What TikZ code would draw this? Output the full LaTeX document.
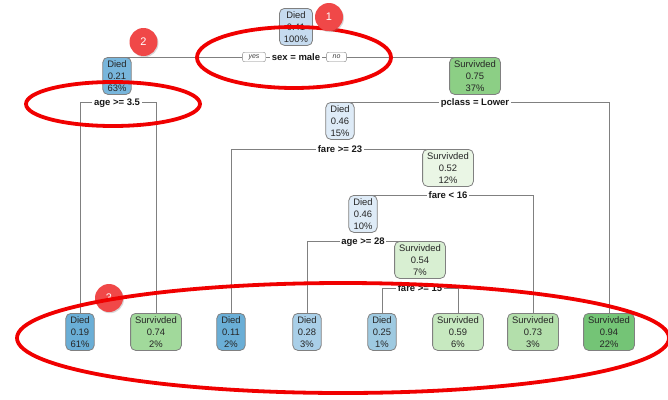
\documentclass[tikz,border=0pt]{standalone}
\usepackage{fontspec}
\setmainfont{Liberation Sans}
\usetikzlibrary{backgrounds,shadows}
\definecolor{linegray}{HTML}{808080}
\definecolor{bA}{HTML}{C6DBEF}
\definecolor{bB}{HTML}{78B6DC}
\definecolor{bC}{HTML}{DEEBF7}
\definecolor{bD}{HTML}{6AAED6}
\definecolor{bE}{HTML}{A9CFE8}
\definecolor{bF}{HTML}{9ECAE1}
\definecolor{gA}{HTML}{8CCF85}
\definecolor{gB}{HTML}{EAF6E5}
\definecolor{gC}{HTML}{D8EFD2}
\definecolor{gD}{HTML}{A1D99B}
\definecolor{gE}{HTML}{C7E9C0}
\definecolor{gF}{HTML}{B3DFAB}
\definecolor{gG}{HTML}{74C476}
\definecolor{annred}{HTML}{F00000}
\definecolor{circred}{HTML}{F04848}
\begin{document}
\begin{tikzpicture}[x=1pt,y=-1pt,
  treenode/.style={draw=linegray, line width=0.8pt, rounded corners=5pt, align=center,
    font=\fontsize{9.4}{12}\selectfont, text=black!85, inner xsep=4.5pt, inner ysep=2.5pt,
    minimum height=37pt, anchor=north},
  splitlab/.style={fill=white, font=\bfseries\fontsize{9.5}{11}\selectfont, text=black!90,
    inner xsep=1.5pt, inner ysep=1pt, text height=7pt, text depth=0pt},
  yesno/.style={draw=linegray, fill=white, rounded corners=2pt, font=\itshape\fontsize{7}{8}\selectfont,
    text=black!75, inner xsep=6pt, inner ysep=1.5pt, text height=5pt, text depth=1.5pt},
  branch/.style={draw=linegray, line width=0.8pt},
  redcirc/.style={circle, fill=circred, minimum size=28pt, inner sep=0pt, text=white,
    font=\fontsize{11}{11}\selectfont,
    drop shadow={opacity=0.3, shadow xshift=1pt, shadow yshift=-1.2pt}},
  annring/.style={draw=annred, line width=3.8pt}
]
\useasboundingbox (0,0) rectangle (668,399);
% internal nodes
\node[treenode, fill=bA] (n1) at (296,8) {Died\\0.41\\100\%};
\node[treenode, fill=bB] (n2) at (117,57) {Died\\0.21\\63\%};
\node[treenode, fill=gA] (n3) at (475,57) {Survivded\\0.75\\37\%};
\node[treenode, fill=bC] (n6) at (340,102) {Died\\0.46\\15\%};
\node[treenode, fill=gB] (n9) at (448,149) {Survivded\\0.52\\12\%};
\node[treenode, fill=bC] (n10) at (363,195) {Died\\0.46\\10\%};
\node[treenode, fill=gC] (n13) at (420,241) {Survivded\\0.54\\7\%};
% leaves
\node[treenode, fill=bD] (n4) at (80,313) {Died\\0.19\\61\%};
\node[treenode, fill=gD] (n5) at (156,313) {Survivded\\0.74\\2\%};
\node[treenode, fill=bD] (n8) at (231,313) {Died\\0.11\\2\%};
\node[treenode, fill=bE] (n12) at (307,313) {Died\\0.28\\3\%};
\node[treenode, fill=bF] (n14) at (382,313) {Died\\0.25\\1\%};
\node[treenode, fill=gE] (n15) at (458,313) {Survivded\\0.59\\6\%};
\node[treenode, fill=gF] (n11) at (533,313) {Survivded\\0.73\\3\%};
\node[treenode, fill=gG] (n7) at (609,313) {Survivded\\0.94\\22\%};
% split labels
\node[splitlab] (s1) at (296,57) {sex = male};
\node[yesno] (yes) at (254,57) {yes};
\node[yesno] (no) at (336.5,57) {no};
\node[splitlab] (s2) at (117,102) {age >= 3.5};
\node[splitlab] (s3) at (475,102) {pclass = Lower};
\node[splitlab] (s6) at (340,149) {fare >= 23};
\node[splitlab] (s9) at (448,195) {fare < 16};
\node[splitlab] (s10) at (363,241) {age >= 28};
\node[splitlab] (s13) at (420,288) {fare >= 15};
\begin{pgfonlayer}{background}
\fill[white] (0,0) rectangle (668,399);
\draw[branch] (n2.north) -- (yes.west);
\draw[branch] (yes.east) -- (s1.west);
\draw[branch] (s1.east) -- (no.west);
\draw[branch] (no.east) -- (n3.north);
\draw[branch] (n4.north) |- (s2.west);
\draw[branch] (n5.north) |- (s2.east);
\draw[branch] (n6.north) |- (s3.west);
\draw[branch] (n7.north) |- (s3.east);
\draw[branch] (n8.north) |- (s6.west);
\draw[branch] (n9.north) |- (s6.east);
\draw[branch] (n10.north) |- (s9.west);
\draw[branch] (n11.north) |- (s9.east);
\draw[branch] (n12.north) |- (s10.west);
\draw[branch] (n13.north) |- (s10.east);
\draw[branch] (n14.north) |- (s13.west);
\draw[branch] (n15.north) |- (s13.east);
\end{pgfonlayer}
% annotations
\node[redcirc] (c2) at (143.5,42) {2};
\node[redcirc] (c3) at (109,298) {3};
\draw[annring] (294,57.5) ellipse [x radius=97pt, y radius=30.5pt];
\node[redcirc] (c1) at (329,17) {1};
\draw[annring] (113,104) ellipse [x radius=87pt, y radius=22pt];
\draw[annring] (343,338) ellipse [x radius=326pt, y radius=55pt];
\end{tikzpicture}
\end{document}
